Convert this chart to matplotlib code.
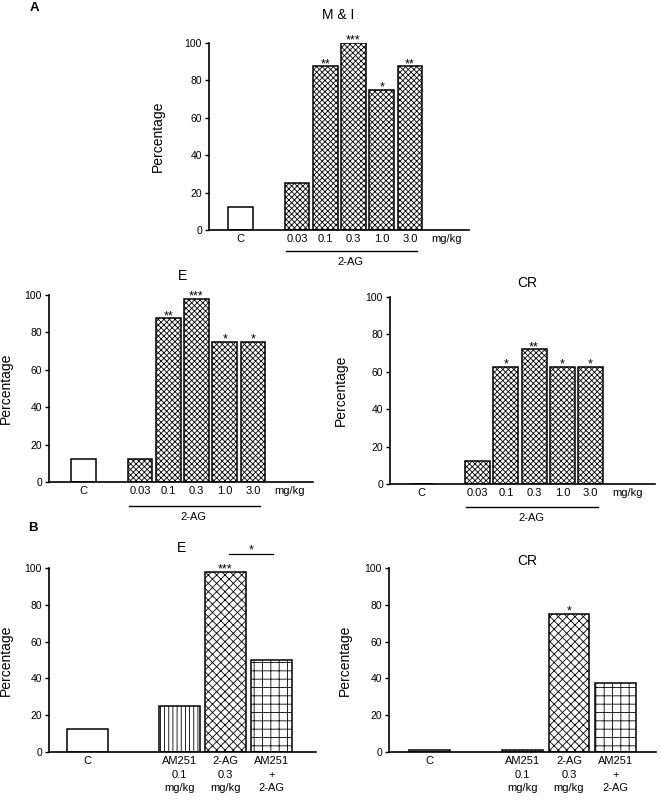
import matplotlib
matplotlib.use("Agg")
import matplotlib.pyplot as plt

plt.rcParams.update({
    "font.family": ["Liberation Sans", "DejaVu Sans"],
    "hatch.linewidth": 0.6, "hatch.color": "black",
    "axes.spines.top": False, "axes.spines.right": False,
})

# ---- donnees ----
dose_labels = ["C", "0.03", "0.1", "0.3", "1.0", "3.0"]
dose_pos = [0, 2, 3, 4, 5, 6]
mi_vals = [12.5, 25, 87.5, 100, 75, 87.5]
mi_sig = ["", "", "**", "***", "*", "**"]
e_vals = [12.5, 12.5, 87.5, 98, 75, 75]
e_sig = ["", "", "**", "***", "*", "*"]
cr_vals = [0, 12.5, 62.5, 72, 62.5, 62.5]
cr_sig = ["", "", "*", "**", "*", "*"]

grp_labels = ["C", "AM251\n0.1\nmg/kg", "2-AG\n0.3\nmg/kg", "AM251\n+\n2-AG"]
grp_pos = [0, 2, 3, 4]
eb_vals = [12.5, 25, 98, 50]
eb_sig = ["", "", "***", ""]
crb_vals = [1.0, 1.0, 75, 37.5]
crb_sig = ["", "", "*", ""]

dose_hatch = [None] + ["xxxxxx"] * 5
grp_hatch = [None, "||||", "xxxx", "++"]

fig = plt.figure(figsize=(6.61, 8.02), dpi=100)


def panel(rect, pos, vals, sig, hatches, xlim, title, title_xy, ylab_x,
          width=0.88):
    ax = fig.add_axes(rect)
    for p, v, h in zip(pos, vals, hatches):
        ax.bar(p, v, width=width, color="white", edgecolor="black",
               linewidth=1.1, hatch=h)
    for p, v, s in zip(pos, vals, sig):
        if s:
            ax.text(p, v - 2, s, ha="center", va="bottom", fontsize=9,
                    clip_on=False)
    ax.set_xlim(*xlim)
    ax.set_ylim(0, 100)
    ax.set_yticks(range(0, 101, 20))
    ax.tick_params(axis="y", labelsize=7.5, length=3, width=1, pad=2)
    ax.tick_params(axis="x", length=0, labelsize=8, pad=3)
    for sp in ["left", "bottom"]:
        ax.spines[sp].set_linewidth(1.2)
    ax.set_ylabel("Percentage", fontsize=10)
    ax.yaxis.set_label_coords(ylab_x, 0.5)
    ax.text(title_xy[0], title_xy[1], title, ha="center", va="center",
            fontsize=10, clip_on=False)
    return ax


def dose_axis(ax, line_y, lab_y):
    ax.set_xticks(dose_pos + [7.3])
    ax.set_xticklabels(dose_labels + ["mg/kg"])
    tr = ax.get_xaxis_transform()
    ax.plot([1.6, 6.25], [line_y, line_y], color="black", lw=1.0,
            transform=tr, clip_on=False)
    ax.text(3.9, lab_y, "2-AG", ha="center", va="center", fontsize=8,
            transform=tr)


# A : M & I
ax1 = panel([0.3162, 0.7132, 0.3933, 0.2332], dose_pos, mi_vals, mi_sig,
            dose_hatch, (-1.115, 8.09), "M & I", (3.45, 115), -0.17)
dose_axis(ax1, -0.112, -0.17)

# A : E
ax2 = panel([0.0741, 0.399, 0.3994, 0.2332], dose_pos, e_vals, e_sig,
            dose_hatch, (-1.22, 8.12), "E", (3.52, 110), -0.136)
dose_axis(ax2, -0.13, -0.187)

# A : CR
ax3 = panel([0.590, 0.3965, 0.4009, 0.2332], dose_pos, cr_vals, cr_sig,
            dose_hatch, (-1.1, 8.28), "CR", (3.75, 107.5), -0.16)
dose_axis(ax3, -0.123, -0.18)

# B : E
ax4 = panel([0.0741, 0.0623, 0.4039, 0.2294], grp_pos, eb_vals, eb_sig,
            grp_hatch, (-0.84, 4.97), "E", (2.05, 111), -0.136)
ax4.set_xticks(grp_pos)
ax4.set_xticklabels(grp_labels, linespacing=1.45)
ax4.plot([3.08, 4.03], [107.6, 107.6], color="black", lw=0.9, clip_on=False)
ax4.text(3.55, 106.5, "*", ha="center", va="bottom", fontsize=9,
         clip_on=False)

# B : CR
ax5 = panel([0.5885, 0.0623, 0.4039, 0.2294], grp_pos, crb_vals, crb_sig,
            grp_hatch, (-0.87, 4.87), "CR", (2.1, 104), -0.14)
ax5.set_xticks(grp_pos)
ax5.set_xticklabels(grp_labels, linespacing=1.45)

fig.text(34 / 661, 1 - 8 / 802, "A", fontsize=9.5, fontweight="bold",
         ha="center", va="center")
fig.text(33 / 661, 1 - 528 / 802, "B", fontsize=9.5, fontweight="bold",
         ha="center", va="center")

fig.savefig("out.png", dpi=100)
